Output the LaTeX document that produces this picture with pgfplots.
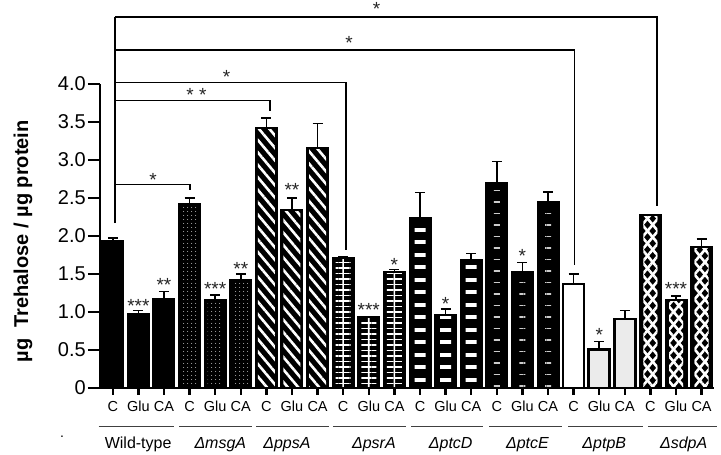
\documentclass[border=0pt]{standalone}
\usepackage{fontspec}
\setmainfont{Liberation Sans}
\usepackage{pgfplots}
\usepackage{pgfplotstable}
\pgfplotsset{compat=1.18}
\usetikzlibrary{patterns.meta}

\pgfplotstableread{
x y e
0 1.93 0.04
1 0.97 0.05
2 1.17 0.10
}\tWT
\pgfplotstableread{
x y e
3 2.42 0.08
4 1.16 0.06
5 1.42 0.08
}\tmsgA
\pgfplotstableread{
x y e
6 3.42 0.13
7 2.34 0.16
8 3.16 0.32
}\tppsA
\pgfplotstableread{
x y e
9 1.71 0.01
10 0.93 0.01
11 1.53 0.03
}\tpsrA
\pgfplotstableread{
x y e
12 2.24 0.33
13 0.96 0.08
14 1.68 0.09
}\tptcD
\pgfplotstableread{
x y e
15 2.70 0.28
16 1.53 0.12
17 2.45 0.13
}\tptcE
\pgfplotstableread{
x y e
18 1.37 0.13
19 0.51 0.10
20 0.91 0.11
}\tptpB
\pgfplotstableread{
x y e
21 2.27 0.00
22 1.16 0.05
23 1.86 0.10
}\tsdpA

\pgfplotsset{
  frame/.style={fill=none, draw=black, line width=2pt,
    error bars/y dir=plus, error bars/y explicit,
    error bars/error bar style={line width=1.6pt, black},
    error bars/error mark options={rotate=90, mark size=5pt, line width=1.6pt, black}},
}
\tikzset{
  sig/.style={font=\fontsize{19}{19}\selectfont, inner sep=0pt, anchor=north, text=black!85},
  brk/.style={line width=1.5pt, black},
  grp/.style={line width=0.8pt, black!75},
  glab/.style={font=\fontsize{16}{18}\selectfont, anchor=center},
}

\begin{document}
\begin{tikzpicture}
\useasboundingbox (-100pt,-67pt) rectangle (621pt,388pt);
\begin{axis}[
  x=25.6pt, y=76pt,
  xmin=-0.5, xmax=23.5, ymin=0, ymax=5.1,
  axis x line*=bottom, axis y line*=left,
  y axis line style={draw=none},
  x axis line style={line width=2.4pt},
  axis on top,
  ybar, bar shift=0pt, bar width=21pt,
  clip=false,
  tick align=outside,
  xtick={0,...,23},
  xticklabels={C,Glu,CA,C,Glu,CA,C,Glu,CA,C,Glu,CA,C,Glu,CA,C,Glu,CA,C,Glu,CA,C,Glu,CA},
  ytick={0,0.5,1,1.5,2,2.5,3,3.5,4},
  yticklabels={0,0.5,1.0,1.5,2.0,2.5,3.0,3.5,4.0},
  major tick length=12pt,
  xtick style={line width=2.4pt, black, /pgfplots/major tick length=7pt},
  ytick style={line width=2.4pt, black},
  xticklabel style={font=\fontsize{14.5}{16}\selectfont, inner sep=1pt},
  yticklabel style={font=\fontsize{20}{22}\selectfont, inner sep=2pt},
]
% ---- base fills ----
\addplot[fill=black, draw=none] table[x=x,y=y] {\tWT};
\addplot[fill=black, draw=none] table[x=x,y=y] {\tmsgA};
\addplot[fill=black, draw=none] table[x=x,y=y] {\tppsA};
\addplot[fill=black, draw=none] table[x=x,y=y] {\tpsrA};
\addplot[fill=black, draw=none] table[x=x,y=y] {\tptcD};
\addplot[fill=black, draw=none] table[x=x,y=y] {\tptcE};
\addplot[fill=white, draw=none, skip coords between index={1}{3}] table[x=x,y=y] {\tptpB};
\addplot[fill=black!8, draw=none, skip coords between index={0}{1}] table[x=x,y=y] {\tptpB};
\addplot[fill=black, draw=none] table[x=x,y=y] {\tsdpA};
% ---- patterns ----
\addplot[draw=none, bar width=15pt, pattern={Dots[distance=4pt, radius=0.6pt]}, pattern color=white!80!black] table[x=x,y=y] {\tmsgA};
\addplot[draw=none, bar width=17pt, pattern={Lines[angle=-50, distance=8pt, line width=2.6pt]}, pattern color=white] table[x=x,y=y] {\tppsA};
\addplot[draw=none, bar width=15pt, pattern={Lines[angle=0, distance=5.5pt, line width=1.6pt]}, pattern color=white] table[x=x,y=y] {\tpsrA};
\addplot[draw=none, fill=white, bar width=1.6pt] table[x=x,y=y] {\tpsrA};
\addplot[draw=none, bar width=11pt, pattern={Lines[angle=0, distance=12.5pt, line width=4pt]}, pattern color=white] table[x=x,y=y] {\tptcD};
\addplot[draw=none, bar width=6pt, pattern={Lines[angle=0, distance=11.5pt, line width=1.3pt]}, pattern color=white!80!black] table[x=x,y=y] {\tptcE};
\addplot[draw=none, bar width=14pt, pattern={Lines[angle=50, distance=8pt, line width=2.6pt]}, pattern color=white,
  postaction={pattern={Lines[angle=-50, distance=8pt, line width=2.6pt]}, pattern color=white}] table[x=x,y=y] {\tsdpA};
% ---- frames + error bars ----
\addplot[frame] table[x=x,y=y,y error=e] {\tWT};
\addplot[frame] table[x=x,y=y,y error=e] {\tmsgA};
\addplot[frame] table[x=x,y=y,y error=e] {\tppsA};
\addplot[frame] table[x=x,y=y,y error=e] {\tpsrA};
\addplot[frame] table[x=x,y=y,y error=e] {\tptcD};
\addplot[frame] table[x=x,y=y,y error=e] {\tptcE};
\addplot[frame, line width=2.6pt] table[x=x,y=y,y error=e] {\tptpB};
\addplot[frame] table[x=x,y=y,y error=e] {\tsdpA};

% y axis line
\draw[line width=2.6pt] (axis cs:-0.5,0) -- (axis cs:-0.5,4.0);

% brackets
\draw[brk] (axis cs:0.086,2.17) -- (axis cs:0.086,4.88);
\draw[brk] (axis cs:0.086,4.88) -| (axis cs:21.25,2.39);
\draw[brk] (axis cs:0.086,4.45) -| (axis cs:18.03,1.62);
\draw[brk] (axis cs:0.086,4.02) -| (axis cs:9.11,1.82);
\draw[brk] (axis cs:0.086,3.78) -| (axis cs:6.14,3.64);
\draw[brk] (axis cs:0.086,2.675) -| (axis cs:3.02,2.60);

% bracket stars
\node[sig] at (axis cs:10.3,5.08) {*};
\node[sig] at (axis cs:9.23,4.63) {*};
\node[sig] at (axis cs:4.44,4.18) {*};
\node[sig] at (axis cs:3.27,3.94) {* *};
\node[sig] at (axis cs:1.57,2.83) {*};

% bar stars
\node[sig] at (axis cs:1,1.17) {***};
\node[sig] at (axis cs:2,1.44) {**};
\node[sig] at (axis cs:4,1.39) {***};
\node[sig] at (axis cs:5,1.65) {**};
\node[sig] at (axis cs:7,2.70) {**};
\node[sig] at (axis cs:10,1.12) {***};
\node[sig] at (axis cs:11,1.71) {*};
\node[sig] at (axis cs:13,1.19) {*};
\node[sig] at (axis cs:16,1.82) {*};
\node[sig] at (axis cs:19,0.79) {*};
\node[sig] at (axis cs:22,1.39) {***};

% group lines
\draw[grp] (axis cs:-0.55,-0.51) -- (axis cs:2.4,-0.51);
\draw[grp] (axis cs:2.6,-0.51) -- (axis cs:5.45,-0.51);
\draw[grp] (axis cs:5.6,-0.51) -- (axis cs:8.45,-0.51);
\draw[grp] (axis cs:8.6,-0.51) -- (axis cs:11.45,-0.51);
\draw[grp] (axis cs:11.65,-0.51) -- (axis cs:14.45,-0.51);
\draw[grp] (axis cs:14.7,-0.51) -- (axis cs:17.55,-0.51);
\draw[grp] (axis cs:17.8,-0.51) -- (axis cs:20.7,-0.51);
\draw[grp] (axis cs:20.9,-0.51) -- (axis cs:23.6,-0.51);

% group labels
\node[glab] at (axis cs:0.99,-0.745) {Wild-type};
\node[glab] at (axis cs:4.2,-0.745) {\textit{ΔmsgA}};
\node[glab] at (axis cs:6.8,-0.745) {\textit{ΔppsA}};
\node[glab] at (axis cs:10.2,-0.745) {\textit{ΔpsrA}};
\node[glab] at (axis cs:13.2,-0.745) {\textit{ΔptcD}};
\node[glab] at (axis cs:16.2,-0.745) {\textit{ΔptcE}};
\node[glab] at (axis cs:19.2,-0.745) {\textit{ΔptpB}};
\node[glab] at (axis cs:22.3,-0.745) {\textit{ΔsdpA}};

% stray dot
\node[font=\fontsize{14}{14}\selectfont] at (axis cs:-1.98,-0.64) {.};

% y label
\node[rotate=90, font=\bfseries\fontsize{20}{22}\selectfont] at (axis cs:-3.51,1.93) {µg\ \ Trehalose / µg protein};
\end{axis}
\end{tikzpicture}
\end{document}
